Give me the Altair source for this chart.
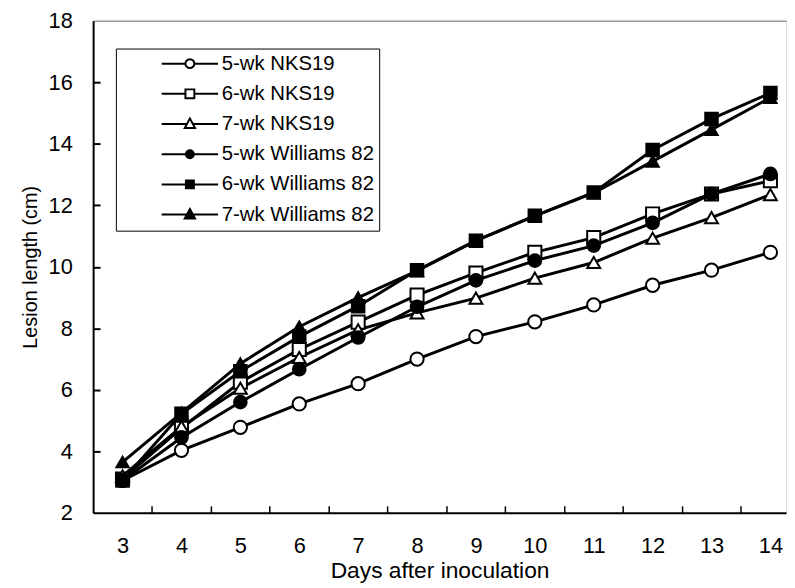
import altair as alt
import pandas as pd

days = [3, 4, 5, 6, 7, 8, 9, 10, 11, 12, 13, 14]
series_names = ["5-wk NKS19", "6-wk NKS19", "7-wk NKS19",
                "5-wk Williams 82", "6-wk Williams 82", "7-wk Williams 82"]
nks5 = [3.05, 4.03, 4.78, 5.54, 6.20, 7.00, 7.73, 8.21, 8.76, 9.40, 9.89, 10.47]
nks6 = [3.10, 4.75, 6.25, 7.31, 8.20, 9.08, 9.80, 10.47, 10.95, 11.72, 12.37, 12.80]
nks7 = [3.20, 4.80, 6.05, 7.05, 7.95, 8.50, 8.98, 9.63, 10.14, 10.93, 11.60, 12.35]
w5 = [3.05, 4.45, 5.60, 6.67, 7.70, 8.70, 9.56, 10.20, 10.69, 11.43, 12.37, 13.02]
w6 = [3.05, 5.22, 6.60, 7.73, 8.72, 9.89, 10.85, 11.66, 12.42, 13.80, 14.81, 15.65]
w7 = [3.65, 5.25, 6.85, 8.05, 9.00, 9.87, 10.85, 11.66, 12.40, 13.43, 14.46, 15.50]
y_ticks = [2, 4, 6, 8, 10, 12, 14, 16, 18]

rows = []
for name, vals in zip(series_names, [nks5, nks6, nks7, w5, w6, w7]):
    for d, v in zip(days, vals):
        rows.append({"day": d, "length": v, "series": name})
df = pd.DataFrame(rows)

W, H = 700, 497
FONT = "Liberation Sans"
xscale = alt.Scale(domain=[2.5, 14.265], nice=False, zero=False)
yscale = alt.Scale(domain=[2, 18], nice=False, zero=False)
half_ticks = [d + 0.5 for d in days[:-1]]

shapes = ["circle", "square", "triangle-up", "circle", "square", "triangle-up"]
fills = ["white", "white", "white", "black", "black", "black"]
sizes = [180, 155, 220, 180, 155, 220]

# ---- legend glyphs (line + marker) as custom symbol paths ----
HL = 3.5625  # half line length in symbol units


def f(v):
    return f"{v:.3f}"


def circle_path(r):
    return f"M{f(-r)},0A{f(r)},{f(r)} 0 1,0 {f(r)},0A{f(r)},{f(r)} 0 1,0 {f(-r)},0Z"


def square_path(h):
    return f"M{f(-h)},{f(-h)}H{f(h)}V{f(h)}H{f(-h)}Z"


def tri_path(k, top=-0.7, bot=0.5, hw=0.65):
    cy = (top + bot + bot) / 3
    t = cy + k * (top - cy)
    b = cy + k * (bot - cy)
    w = hw * k
    return f"M0,{f(t)}L{f(w)},{f(b)}H{f(-w)}Z"


open_circle = f"M{f(-HL)},0H{f(-0.5625)}M{f(0.5625)},0H{f(HL)}" + circle_path(0.5625)
open_square = f"M{f(-HL)},0H{f(-0.5625)}M{f(0.5625)},0H{f(HL)}" + square_path(0.5625)
open_tri = f"M{f(-HL)},0H{f(-0.379)}M{f(0.379)},0H{f(HL)}" + tri_path(1.0)
full_line = f"M{f(-HL)},0H{f(HL)}"
fill_circle = full_line + "".join(circle_path(r) for r in (0.5, 0.3, 0.1))
fill_square = full_line + "".join(square_path(h) for h in (0.5, 0.3, 0.1))
fill_tri = full_line + "".join(tri_path(k) for k in (1.0, 0.62, 0.25))
legend_shapes = [open_circle, open_square, open_tri, fill_circle, fill_square, fill_tri]

base = alt.Chart(df)

lines = base.mark_line(color="black", strokeWidth=3).encode(
    x=alt.X("day:Q", scale=xscale, axis=alt.Axis(
        values=days, ticks=False, grid=False, domainColor="black", domainWidth=2,
        labelFontSize=22, labelFont=FONT, labelColor="black", labelPadding=23,
        title="Days after inoculation", titleFont=FONT, titleFontSize=23,
        titleFontWeight="normal", titleColor="black", titleY=65,
        titleBaseline="alphabetic")),
    y=alt.Y("length:Q", scale=yscale, axis=alt.Axis(
        values=y_ticks, ticks=False, grid=False, domainColor="black", domainWidth=2,
        labelFontSize=22, labelFont=FONT, labelColor="black", labelPadding=21,
        title="Lesion length (cm)", titleFont=FONT, titleFontSize=20,
        titleFontWeight="normal", titleColor="black", titleX=-57,
        titleBaseline="alphabetic")),
    detail="series:N",
)

points = base.mark_point(filled=True, stroke="black", strokeWidth=2, opacity=1).encode(
    x=alt.X("day:Q", scale=xscale, axis=None),
    y=alt.Y("length:Q", scale=yscale, axis=None),
    shape=alt.Shape("series:N", scale=alt.Scale(domain=series_names, range=shapes), legend=None),
    fill=alt.Fill("series:N", scale=alt.Scale(domain=series_names, range=fills), legend=None),
    size=alt.Size("series:N", scale=alt.Scale(domain=series_names, range=sizes), legend=None),
)

ticks = base.mark_point(opacity=0).encode(
    x=alt.X("day:Q", scale=xscale, axis=alt.Axis(
        orient="top", offset=-H, values=half_ticks, labels=False, domain=False,
        grid=False, tickSize=7, tickWidth=1.5, tickColor="black", title=None)),
    y=alt.Y("length:Q", scale=yscale, axis=alt.Axis(
        orient="right", offset=-W, values=y_ticks[1:-1], labels=False, domain=False,
        grid=False, tickSize=7, tickWidth=2, tickColor="black", title=None)),
)

topline = base.mark_point(opacity=0).encode(
    x=alt.X("day:Q", scale=xscale, axis=alt.Axis(
        orient="top", labels=False, ticks=False, grid=False, domainColor="#999999",
        domainWidth=1.5, title=None)),
    y=alt.Y("length:Q", scale=yscale, axis=None),
)

legend_layer = base.mark_point(
    filled=True, fill="white", stroke="black", strokeWidth=2, opacity=1
).encode(
    shape=alt.Shape("series:N", scale=alt.Scale(domain=series_names, range=legend_shapes),
                    legend=alt.Legend(
                        orient="none", legendX=23, legendY=28, title=None,
                        strokeColor="black", fillColor="white", padding=5,
                        symbolSize=256, symbolStrokeWidth=2, symbolOpacity=1,
                        symbolOffset=59.5, labelOffset=22, rowPadding=9.5,
                        labelFontSize=20.5, labelFont=FONT, labelColor="black",
                        labelLimit=0)),
).transform_filter("false")

chart = alt.layer(lines, points, ticks, topline, legend_layer).resolve_axis(
    x="independent", y="independent"
).resolve_scale(
    shape="independent", fill="independent", size="independent"
).properties(
    width=W, height=H,
    autosize=alt.AutoSizeParams(type="none"),
    padding={"left": 86, "top": 10, "right": 1, "bottom": 70},
).configure_view(stroke=None).configure(font=FONT)

chart.save("out.html", embed_options={"renderer": "svg", "actions": False})
